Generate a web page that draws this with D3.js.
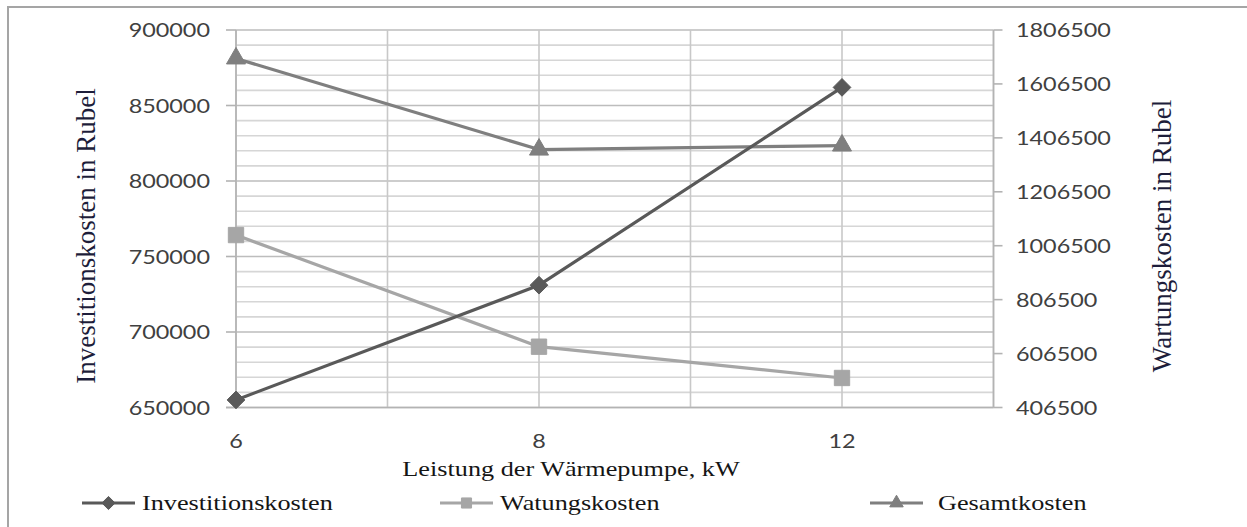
<!DOCTYPE html>
<html>
<head>
<meta charset="utf-8">
<script src="https://cdn.jsdelivr.net/npm/d3@7"></script>
<style>
  html, body { margin: 0; padding: 0; background: #fff; }
  svg { display: block; }
</style>
</head>
<body>
<svg id="chart" width="1247" height="527"></svg>
<script>
// ---- data ----
const categories = ["6", "8", "12"];
const investitionskosten = [655000, 731000, 862000];
const wartungskosten = [1046000, 632000, 516000];
const gesamtkosten = [1701000, 1363000, 1378000];
const leftTicks = [650000, 700000, 750000, 800000, 850000, 900000];
const rightTicks = [406500, 606500, 806500, 1006500, 1206500, 1406500, 1606500, 1806500];
const seriesNames = ["Investitionskosten", "Watungskosten", "Gesamtkosten"];
const xTitle = "Leistung der Wärmepumpe, kW";
const leftTitle = "Investitionskosten in Rubel";
const rightTitle = "Wartungskosten in Rubel";

// ---- layout ----
const svg = d3.select("#chart");
const plotTop = 30, plotBottom = 407.5, plotLeft = 236;
const x = d3.scalePoint().domain(categories).range([plotLeft, 842]);
const step = x.step();
const plotRight = plotLeft + step * (categories.length - 0.5);
const yL = d3.scaleLinear().domain([650000, 900000]).range([plotBottom, plotTop]);
const yR = d3.scaleLinear().domain([406500, 1806500]).range([plotBottom, plotTop]);

const numFont = "Lato, 'Open Sans', sans-serif";
const serif = "'Liberation Serif', 'Times New Roman', serif";
const sx = 1.2;

// outer border
svg.append("rect").attr("x", 8).attr("y", 7).attr("width", 1300).attr("height", 600)
  .attr("fill", "#fff").attr("stroke", "#a5a5a5").attr("stroke-width", 2);

// horizontal gridlines (minor every 10000, major every 50000)
const minor = d3.range(650000, 900001, 10000);
svg.append("g").selectAll("line").data(minor).join("line")
  .attr("x1", plotLeft).attr("x2", plotRight)
  .attr("y1", d => yL(d)).attr("y2", d => yL(d))
  .attr("stroke", d => (d % 50000 === 0) ? "#bdbdbd" : "#d6d6d6")
  .attr("stroke-width", 1.6);

// vertical gridlines every half category step
const vk = d3.range(0, categories.length * 2);
svg.append("g").selectAll("line").data(vk).join("line")
  .attr("x1", k => plotLeft + k * step / 2).attr("x2", k => plotLeft + k * step / 2)
  .attr("y1", plotTop).attr("y2", plotBottom)
  .attr("stroke", "#c8c8c8").attr("stroke-width", 1.6);

// axes lines
const axisColor = "#b3b3b3";
svg.append("line").attr("x1", plotLeft).attr("x2", plotLeft).attr("y1", plotTop).attr("y2", plotBottom)
  .attr("stroke", axisColor).attr("stroke-width", 1.6);
svg.append("line").attr("x1", plotRight).attr("x2", plotRight).attr("y1", plotTop).attr("y2", plotBottom)
  .attr("stroke", axisColor).attr("stroke-width", 1.6);
svg.append("line").attr("x1", plotLeft - 10).attr("x2", plotRight).attr("y1", plotBottom).attr("y2", plotBottom)
  .attr("stroke", axisColor).attr("stroke-width", 1.6);

// left ticks + labels
const gl = svg.append("g");
gl.selectAll("line").data(leftTicks).join("line")
  .attr("x1", plotLeft - 10).attr("x2", plotLeft)
  .attr("y1", d => yL(d)).attr("y2", d => yL(d))
  .attr("stroke", axisColor).attr("stroke-width", 1.6);
gl.selectAll("text").data(leftTicks).join("text")
  .attr("transform", d => `translate(210,${yL(d)}) scale(${sx},1)`)
  .attr("dy", "0.36em").attr("text-anchor", "end")
  .attr("font-family", numFont).attr("font-size", 19.5).attr("fill", "#404040")
  .text(d => d);

// right ticks + labels
const gr = svg.append("g");
gr.selectAll("line").data(rightTicks).join("line")
  .attr("x1", plotRight).attr("x2", plotRight + 9)
  .attr("y1", d => yR(d)).attr("y2", d => yR(d))
  .attr("stroke", axisColor).attr("stroke-width", 1.6);
gr.selectAll("text").data(rightTicks).join("text")
  .attr("transform", d => `translate(1016,${yR(d)}) scale(${sx},1)`)
  .attr("dy", "0.36em").attr("text-anchor", "start")
  .attr("font-family", numFont).attr("font-size", 19.5).attr("fill", "#404040")
  .text(d => d);

// x labels
svg.append("g").selectAll("text").data(categories).join("text")
  .attr("transform", d => `translate(${x(d)},441) scale(${sx},1)`)
  .attr("dy", "0.36em").attr("text-anchor", "middle")
  .attr("font-family", numFont).attr("font-size", 19.5).attr("fill", "#404040")
  .text(d => d);

// axis titles
svg.append("text")
  .attr("transform", `translate(571,476) scale(1.22,1)`)
  .attr("text-anchor", "middle")
  .attr("font-family", serif).attr("font-size", 21.5).attr("fill", "#151515")
  .text(xTitle);
svg.append("text")
  .attr("transform", `translate(95,236) rotate(-90)`)
  .attr("text-anchor", "middle")
  .attr("font-family", serif).attr("font-size", 27).attr("fill", "#1d1d3a")
  .text(leftTitle);
svg.append("text")
  .attr("transform", `translate(1171,236) rotate(-90)`)
  .attr("text-anchor", "middle")
  .attr("font-family", serif).attr("font-size", 27).attr("fill", "#1d1d3a")
  .text(rightTitle);

// ---- series ----
const series = [
  { name: seriesNames[0], values: investitionskosten, y: yL, color: "#595959", symbol: d3.symbolDiamond2, size: 200, lsize: 110 },
  { name: seriesNames[1], values: wartungskosten, y: yR, color: "#a6a6a6", symbol: d3.symbolSquare2, size: 300, lsize: 130 },
  { name: seriesNames[2], values: gesamtkosten, y: yR, color: "#7f7f7f", symbol: d3.symbolTriangle2, size: 260, lsize: 130 }
];

// draw in order: Gesamt first? Keep Excel order: series 1 (left) then secondary
const drawOrder = [1, 2, 0];
drawOrder.forEach(i => {
  const s = series[i];
  const pts = categories.map((c, j) => [x(c), s.y(s.values[j])]);
  svg.append("path").datum(pts)
    .attr("d", d3.line())
    .attr("fill", "none").attr("stroke", s.color).attr("stroke-width", 3.2)
    .attr("stroke-linejoin", "round");
  svg.append("g").selectAll("path").data(pts).join("path")
    .attr("transform", d => `translate(${d[0]},${d[1]})`)
    .attr("d", d3.symbol().type(s.symbol).size(s.size))
    .attr("fill", s.color).attr("stroke", s.color).attr("stroke-width", 1);
});

// ---- legend ----
const legendX = [82, 440, 870];
const legendY = 503;
series.forEach((s, i) => {
  const g = svg.append("g").attr("transform", `translate(${legendX[i]},${legendY})`);
  g.append("line").attr("x1", 0).attr("x2", 53).attr("y1", 0).attr("y2", 0)
    .attr("stroke", s.color).attr("stroke-width", 3.2);
  g.append("path").attr("transform", "translate(26.5,0)")
    .attr("d", d3.symbol().type(s.symbol).size(s.lsize))
    .attr("fill", s.color).attr("stroke", s.color).attr("stroke-width", 1);
  g.append("text")
    .attr("transform", `translate(${i === 2 ? 68 : 60},0) scale(1.22,1)`)
    .attr("dy", "0.33em")
    .attr("font-family", serif).attr("font-size", 21.5).attr("fill", "#151515")
    .text(s.name);
});
</script>
</body>
</html>
